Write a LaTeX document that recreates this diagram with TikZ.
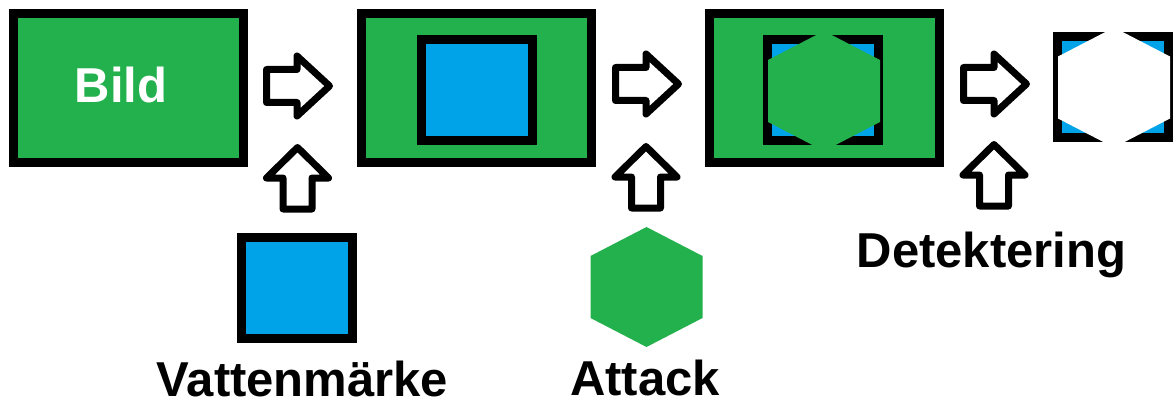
\documentclass[tikz,border=0pt]{standalone}
\usepackage{fontspec}
\setmainfont{Liberation Sans}
\definecolor{pgreen}{HTML}{22B14C}
\definecolor{pblue}{HTML}{00A2E8}
\tikzset{
  frame/.style={draw=black, line width=9pt, fill=pgreen, minimum width=230pt, minimum height=149pt, inner sep=0pt},
  wmark/.style={draw=black, line width=9pt, fill=pblue, minimum width=111pt, minimum height=101pt, inner sep=0pt},
  blockarrow/.style={draw=black, fill=white, line width=7pt, line join=round},
  lbl/.style={font=\bfseries\fontsize{49}{49}\selectfont, anchor=base, inner sep=0pt, text depth=0pt},
  pics/rarrow/.style={code={\path[blockarrow] (-30.5,-16.5) -- (0,-16.5) -- (0,-30) -- (32.5,0) -- (0,30) -- (0,16.5) -- (-30.5,16.5) -- cycle;}},
  pics/uarrow/.style={code={\path[blockarrow] (0,-30.5) -- (31,0) -- (14.5,0) -- (14.5,31) -- (-14.5,31) -- (-14.5,0) -- (-31,0) -- cycle;}},
  pics/hexa/.style={code={\fill[#1] (0,-60) -- (56,-31) -- (56,31) -- (0,60) -- (-56,31) -- (-56,-31) -- cycle;}},
}
\begin{document}
\begin{tikzpicture}[x=1pt,y=-1pt]
\useasboundingbox[fill=white] (0,0) rectangle (1175,401);
% step 1
\node[frame] (img) at (128.5,88) {};
\node[lbl, text=white] (bild) at (121,103) {Bild};
\pic at (297,86) {rarrow};
\pic at (297.5,178) {uarrow};
\node[wmark] (wm) at (297,288) {};
\node[lbl] (wmlbl) at (302.5,396) {Vattenmärke};
% step 2
\node[frame] (img2) at (476,88) {};
\node[wmark] (wm2) at (476.5,90.5) {};
\pic at (646,84) {rarrow};
\pic at (646,177) {uarrow};
\pic at (646.5,287) {hexa=pgreen};
\node[lbl] (attlbl) at (645,395) {Attack};
% step 3
\node[frame] (img3) at (824,88) {};
\node[wmark] (wm3) at (823,90.5) {};
\pic at (824,91) {hexa=pgreen};
\pic at (994,84) {rarrow};
\pic at (994,175) {uarrow};
\node[lbl] (detlbl) at (991.5,267) {Detektering};
% result
\node[wmark] (res) at (1113,87) {};
\pic at (1114,87.5) {hexa=white};
\end{tikzpicture}
\end{document}
